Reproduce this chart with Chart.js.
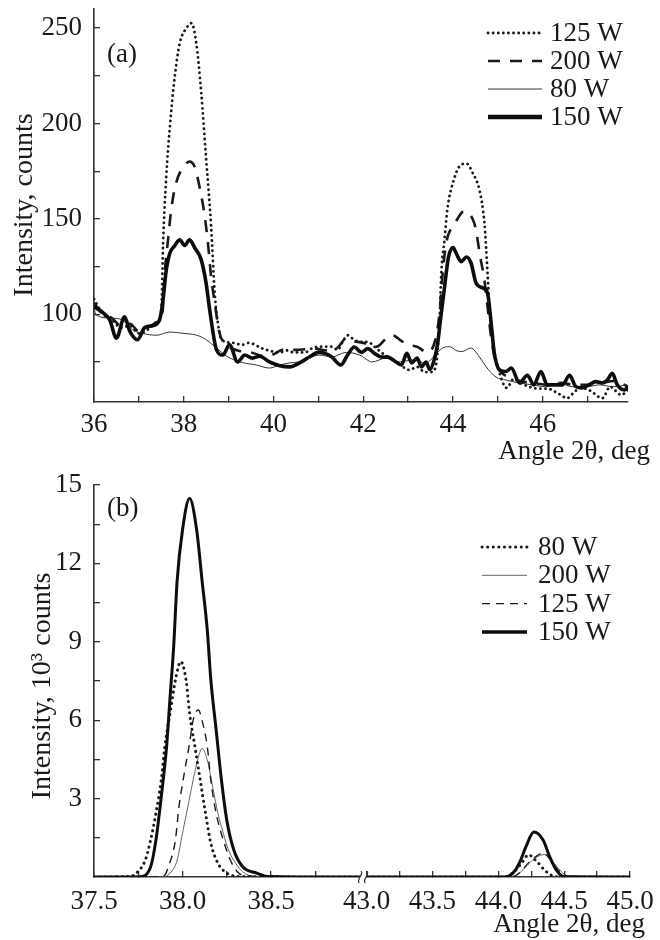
<!DOCTYPE html>
<html>
<head>
<meta charset="utf-8">
<script src="https://cdn.jsdelivr.net/npm/chart.js@4.4.0/dist/chart.umd.min.js"></script>
<style>
  html, body { margin: 0; padding: 0; background: #fff; }
  canvas { display: block; }
</style>
</head>
<body>
<canvas id="chart-a" width="660" height="470"></canvas>
<canvas id="chart-b" width="660" height="470"></canvas>
<script>
// ---------- panel (a): intensity, counts vs angle 2θ ----------
const A_125_X = [36.0, 36.2, 36.4, 36.6, 36.8, 37.0, 37.2, 37.4, 37.5, 37.54, 37.61, 37.69, 37.8, 37.91, 38.06, 38.17, 38.28, 38.39, 38.5, 38.61, 38.69, 38.76, 38.85, 39.1, 39.3, 39.45, 39.76, 40.14, 40.3, 40.45, 40.7, 40.87, 41.1, 41.3, 41.43, 41.54, 41.66, 41.8, 41.96, 42.1, 42.25, 42.4, 42.6, 42.77, 43.03, 43.2, 43.37, 43.52, 43.63, 43.7, 43.74, 43.81, 43.88, 44.0, 44.14, 44.3, 44.44, 44.59, 44.7, 44.77, 44.81, 44.88, 45.0, 45.2, 45.35, 45.5, 45.7, 45.9, 46.1, 46.33, 46.55, 46.65, 46.85, 47.05, 47.33, 47.5, 47.75, 47.9];
const A_125_Y = [108, 100, 97, 93, 94, 90, 92, 96, 102, 137, 172, 198, 224.6, 242, 250, 252.6, 242, 216, 181, 146, 111, 95.4, 86.5, 85, 84, 85, 82, 80, 81, 80, 80, 82.3, 83, 83, 81.3, 85.5, 89, 86.5, 85.5, 85.5, 83, 80, 77, 74.5, 70.8, 72.4, 69.7, 69.7, 74.5, 97, 121.6, 139, 156, 169, 177.4, 179, 174, 165, 147.8, 121.6, 104, 86.5, 72.4, 61.4, 66, 64, 62, 61, 61, 58.7, 56, 58, 61.4, 60, 56, 62, 57.7, 60.3];

const A_200_X = [36.0, 36.2, 36.4, 36.6, 36.8, 37.0, 37.2, 37.4, 37.53, 37.57, 37.65, 37.72, 37.83, 38.02, 38.13, 38.24, 38.35, 38.47, 38.54, 38.61, 38.69, 38.8, 38.95, 39.2, 39.5, 39.8, 40.0, 40.2, 40.5, 40.9, 41.2, 41.45, 41.6, 41.75, 42.0, 42.3, 42.5, 42.65, 42.85, 43.0, 43.2, 43.43, 43.6, 43.7, 43.77, 43.85, 44.03, 44.25, 44.47, 44.53, 44.6, 44.7, 44.77, 44.85, 44.95, 45.1, 45.3, 45.5, 45.8, 46.1, 46.4, 46.7, 47.0, 47.3, 47.6, 47.9];
const A_200_Y = [106, 100, 98, 94, 95, 91, 93, 96, 102, 119.7, 139, 154.7, 168.8, 178, 180, 177.4, 167, 151, 137, 119.7, 106, 90, 84, 81, 80, 78, 79, 81.3, 81.3, 82, 81, 83, 87, 86, 85, 83, 87, 89, 86, 84, 83, 80, 86, 100.6, 121.6, 137.4, 147, 154, 148, 141.6, 131, 118, 104, 88, 75, 69, 67, 65, 64, 63, 64, 63, 63, 64, 65, 62];

const A_80_X = [36.0, 36.05, 36.35, 36.64, 36.86, 37.08, 37.4, 37.69, 37.98, 38.29, 38.51, 38.73, 38.96, 39.25, 39.62, 39.91, 40.14, 40.36, 40.58, 41.03, 41.3, 41.62, 41.92, 42.2, 42.5, 42.8, 43.1, 43.4, 43.6, 43.77, 43.92, 44.1, 44.2, 44.4, 44.59, 44.74, 44.96, 45.18, 45.48, 45.77, 46.07, 46.37, 46.66, 46.96, 47.27, 47.57, 47.88];
const A_80_Y = [103, 99.6, 98, 97, 91.8, 90, 89, 90.7, 90, 89, 86.5, 82.3, 78, 75, 73.4, 71.8, 73.4, 74.5, 75, 78.6, 77.6, 80, 78.6, 75, 77, 75, 76, 74.5, 78.6, 82.3, 83, 80.7, 80.5, 82.3, 77.6, 72.4, 67, 65.5, 64, 63, 62, 64, 62, 62, 63, 62, 63];

const A_150_X = [36.0, 36.19, 36.35, 36.5, 36.68, 36.8, 36.97, 37.13, 37.3, 37.46, 37.53, 37.61, 37.69, 37.8, 37.91, 38.02, 38.13, 38.24, 38.39, 38.5, 38.58, 38.73, 38.87, 39.02, 39.2, 39.36, 39.53, 39.69, 39.91, 40.14, 40.36, 40.58, 40.8, 41.0, 41.15, 41.3, 41.5, 41.65, 41.8, 41.96, 42.1, 42.25, 42.4, 42.55, 42.7, 42.85, 42.97, 43.08, 43.2, 43.3, 43.4, 43.48, 43.58, 43.66, 43.72, 43.8, 43.9, 44.0, 44.07, 44.18, 44.3, 44.4, 44.52, 44.66, 44.77, 44.85, 44.92, 45.04, 45.18, 45.3, 45.48, 45.66, 45.8, 45.96, 46.1, 46.25, 46.44, 46.6, 46.74, 46.88, 47.03, 47.18, 47.33, 47.44, 47.55, 47.66, 47.82, 47.9];
const A_150_Y = [104, 101, 97, 87.5, 98.6, 91, 86.6, 93, 94, 97, 106, 123, 132, 136, 139, 136, 139, 135, 128.5, 116, 102, 81.3, 78.6, 84, 75, 78.6, 77, 78, 75, 73, 72.4, 74.5, 77.6, 80, 79.5, 77.6, 73.4, 78.6, 82.8, 80, 82, 79.5, 77.6, 77.5, 75.5, 73.4, 79.5, 74.5, 77, 72.4, 75, 71, 76, 85, 97, 112, 130, 135, 132, 127.6, 130, 127, 116, 113.8, 111, 95.5, 79.7, 70.8, 70, 71.8, 64, 68, 63, 70, 63, 63, 63, 68, 62, 61.4, 63, 64.7, 64, 65.5, 69, 63, 60.3, 62];

const A_XTICKS = [36, 37, 38, 39, 40, 41, 42, 43, 44, 45, 46, 47];
const A_XLABELS = ['36', '', '38', '', '40', '', '42', '', '44', '', '46', ''];
const A_YTICKS = [75, 100, 125, 150, 175, 200, 225, 250];
const A_YLABELS = ['', '100', '', '150', '', '200', '', '250'];
const A_LEGEND = ['125 W', '200 W', '80 W', '150 W'];

// ---------- panel (b): intensity, 10^3 counts vs angle 2θ (broken axis) ----------
const B_80_X = [37.5, 37.7, 37.74, 37.79, 37.82, 37.85, 37.88, 37.9, 37.93, 37.96, 37.99, 38.02, 38.04, 38.07, 38.1, 38.13, 38.16, 38.2, 38.25, 38.32, 38.9, 43.0, 44.05, 44.12, 44.18, 44.23, 44.27, 44.31, 44.35, 44.4, 44.46, 45.0];
const B_80_Y = [0, 0.02, 0.15, 0.65, 1.42, 2.44, 3.71, 4.99, 6.27, 7.54, 8.24, 7.54, 6.27, 4.99, 3.71, 2.44, 1.29, 0.53, 0.15, 0.02, 0, 0, 0, 0.2, 0.55, 0.85, 0.7, 0.5, 0.27, 0.08, 0, 0];

const B_200_X = [37.5, 37.88, 37.93, 37.97, 38.0, 38.03, 38.06, 38.09, 38.11, 38.14, 38.17, 38.2, 38.23, 38.26, 38.3, 38.34, 38.4, 38.9, 43.0, 44.1, 44.16, 44.22, 44.28, 44.35, 44.41, 44.47, 44.53, 45.0];
const B_200_Y = [0, 0, 0.15, 0.65, 1.68, 2.69, 3.71, 4.6, 4.92, 4.48, 3.46, 2.44, 1.68, 1.03, 0.53, 0.2, 0.03, 0, 0, 0, 0.15, 0.45, 0.72, 0.86, 0.6, 0.25, 0.04, 0];

const B_125_X = [37.5, 37.86, 37.9, 37.92, 37.96, 37.98, 38.01, 38.04, 38.06, 38.09, 38.11, 38.14, 38.16, 38.19, 38.23, 38.27, 38.31, 38.36, 38.9, 43.0, 44.1, 44.17, 44.23, 44.29, 44.34, 44.39, 44.44, 44.5, 44.55, 45.0];
const B_125_Y = [0, 0, 0.08, 0.39, 1.42, 2.69, 3.97, 5.12, 6.0, 6.39, 6.0, 4.99, 3.71, 2.44, 1.42, 0.65, 0.2, 0.03, 0, 0, 0, 0.2, 0.55, 0.8, 0.92, 0.7, 0.35, 0.08, 0, 0];

const B_150_X = [37.5, 37.7, 37.76, 37.82, 37.85, 37.88, 37.91, 37.93, 37.95, 37.97, 38.0, 38.04, 38.08, 38.11, 38.14, 38.16, 38.19, 38.22, 38.25, 38.29, 38.34, 38.42, 38.48, 38.9, 43.0, 44.0, 44.06, 44.12, 44.17, 44.21, 44.27, 44.34, 44.39, 44.44, 44.5, 45.0];
const B_150_Y = [0, 0, 0.01, 0.39, 1.42, 3.07, 4.99, 6.9, 8.81, 11.37, 13.28, 14.49, 13.28, 11.37, 9.45, 7.54, 5.63, 3.71, 2.18, 1.03, 0.39, 0.15, 0.02, 0, 0, 0, 0.01, 0.2, 0.65, 1.16, 1.72, 1.42, 0.78, 0.27, 0.01, 0];

const B_XTICKS = [37.5, 37.75, 38.0, 38.25, 38.5, 38.75, 43.0, 43.25, 43.5, 43.75, 44.0, 44.25, 44.5, 44.75, 45.0];
const B_XLABELS = ['37.5', '', '38.0', '', '38.5', '', '43.0', '', '43.5', '', '44.0', '', '44.5', '', '45.0'];
const B_YTICKS = [1.5, 3, 4.5, 6, 7.5, 9, 10.5, 12, 13.5, 15];
const B_YLABELS = ['', '3', '', '6', '', '9', '', '12', '', '15'];
const B_LEGEND = ['80 W', '200 W', '125 W', '150 W'];

// the gap 39..43 deg is squeezed, right part drawn at a smaller scale
const BREAK_LO = 39.0;
const BREAK_HI = 43.0;
const BREAK_GAP = 0.04;
const RIGHT_K = 0.744;
function axisPos(a) {
  return a <= BREAK_LO ? a : BREAK_LO + BREAK_GAP + (a - BREAK_HI) * RIGHT_K;
}

const SERIF = '"Liberation Serif", "Times New Roman", serif';
const INK = '#1a1a1a';

function pts(xs, ys, map) {
  return xs.map((x, i) => ({ x: map ? map(x) : x, y: ys[i] }));
}

function line(label, data, style) {
  return Object.assign({
    label,
    data,
    borderColor: '#111',
    borderWidth: 1,
    pointRadius: 0,
    fill: false,
    cubicInterpolationMode: 'monotone',
    order: 1,
  }, style);
}

// fixed box size, and no extra room reserved for the end labels
function fixBox(prop, size) {
  return (s) => {
    s[prop] = size;
    s.paddingTop = 0;
    s.paddingBottom = 0;
    s.paddingLeft = 0;
    s.paddingRight = 0;
  };
}

function tickAxis(ticks, labels, pad, extra) {
  return Object.assign({
    type: 'linear',
    afterBuildTicks: (s) => { s.ticks = ticks.map((v) => ({ value: v })); },
    ticks: {
      autoSkip: false,
      maxRotation: 0,
      minRotation: 0,
      padding: pad,
      color: INK,
      font: { family: SERIF, size: 27 },
      callback: (v, i) => labels[i],
    },
    grid: { drawOnChartArea: false, drawTicks: true, tickLength: -6, color: '#333', lineWidth: 1.3 },
    border: { display: true, color: '#333', width: 1.6 },
  }, extra);
}

// sample lines + labels, plus the panel letter and axis titles
const decor = {
  id: 'decor',
  afterDraw(chart, args, o) {
    const ctx = chart.ctx;
    const area = chart.chartArea;
    ctx.save();
    o.rows.forEach((label, i) => {
      const ds = chart.data.datasets.find((d) => d.label === label);
      const y = o.y0 + i * o.dy;
      ctx.strokeStyle = ds.borderColor;
      ctx.lineWidth = ds.legendWidth || ds.borderWidth;
      ctx.lineCap = ds.borderCapStyle || 'butt';
      ctx.setLineDash(ds.borderDash || []);
      ctx.beginPath();
      ctx.moveTo(o.x0, y);
      ctx.lineTo(o.x1, y);
      ctx.stroke();
    });
    ctx.setLineDash([]);
    ctx.fillStyle = INK;
    ctx.textBaseline = 'middle';
    ctx.font = '27px ' + SERIF;
    ctx.textAlign = 'left';
    o.rows.forEach((label, i) => ctx.fillText(label, o.tx, o.y0 + i * o.dy + 1));
    ctx.fillText(o.tag, o.tagX, o.tagY);
    ctx.textAlign = 'right';
    ctx.fillText('Angle 2θ, deg', o.xtRight, o.xtY);
    ctx.translate(o.ytX, o.ytY);
    ctx.rotate(-Math.PI / 2);
    ctx.textAlign = 'center';
    ctx.font = '28px ' + SERIF;
    ctx.fillText(o.ytitle, 0, 0);
    ctx.restore();

    if (o.brk) {
      const xs = chart.scales.x;
      const bx = xs.getPixelForValue(BREAK_LO + BREAK_GAP / 2);
      const by = area.bottom;
      ctx.save();
      ctx.fillStyle = '#fff';
      ctx.fillRect(bx - 3, by - 3, 6, 6);
      ctx.strokeStyle = '#333';
      ctx.lineWidth = 1.2;
      [-3, 3].forEach((dx) => {
        const cx = bx + dx;
        ctx.beginPath();
        ctx.moveTo(cx - 1, by + 6);
        ctx.bezierCurveTo(cx - 4, by + 2, cx + 4, by - 2, cx + 1, by - 6);
        ctx.stroke();
      });
      ctx.restore();
    }
  },
};

new Chart(document.getElementById('chart-a'), {
  type: 'line',
  data: {
    datasets: [
      line('125 W', pts(A_125_X, A_125_Y), { borderWidth: 2.8, borderDash: [0.1, 5], borderCapStyle: 'round', borderColor: '#1a1a1a', order: 3 }),
      line('200 W', pts(A_200_X, A_200_Y), { borderWidth: 2.6, borderDash: [12, 10], borderColor: '#1a1a1a', order: 2 }),
      line('80 W', pts(A_80_X, A_80_Y), { borderWidth: 1, borderColor: '#333', order: 1 }),
      line('150 W', pts(A_150_X, A_150_Y), { borderWidth: 3.6, borderColor: '#0d0d0d', order: 0, legendWidth: 4.5 }),
    ],
  },
  options: {
    responsive: false,
    animation: false,
    events: [],
    layout: { padding: { top: 9, right: 32, left: 0, bottom: 0 } },
    plugins: {
      legend: { display: false },
      tooltip: { enabled: false },
      decor: {
        rows: A_LEGEND, x0: 488, x1: 542, tx: 550, y0: 33, dy: 28,
        tag: '(a)', tagX: 107, tagY: 55,
        xtRight: 650, xtY: 452,
        ytitle: 'Intensity, counts', ytX: 25, ytY: 205,
      },
    },
    scales: {
      x: tickAxis(A_XTICKS, A_XLABELS, 13, {
        min: 36, max: 47.9,
        afterFit: fixBox('height', 68),
      }),
      y: tickAxis(A_YTICKS, A_YLABELS, 18, {
        min: 54, max: 260,
        afterFit: fixBox('width', 94),
      }),
    },
  },
  plugins: [decor],
});

// panel (b) canvas starts at page y = 470
new Chart(document.getElementById('chart-b'), {
  type: 'line',
  data: {
    datasets: [
      line('80 W', pts(B_80_X, B_80_Y, axisPos), { borderWidth: 3, borderDash: [0.1, 5.5], borderCapStyle: 'round', borderColor: '#1a1a1a', order: 1 }),
      line('200 W', pts(B_200_X, B_200_Y, axisPos), { borderWidth: 0.9, borderColor: '#555', order: 3 }),
      line('125 W', pts(B_125_X, B_125_Y, axisPos), { borderWidth: 1.4, borderDash: [8, 6], borderColor: '#1a1a1a', order: 2 }),
      line('150 W', pts(B_150_X, B_150_Y, axisPos), { borderWidth: 3, borderColor: '#0d0d0d', order: 0, legendWidth: 3.5 }),
    ],
  },
  options: {
    responsive: false,
    animation: false,
    events: [],
    layout: { padding: { top: 15, right: 30, left: 0, bottom: 0 } },
    plugins: {
      legend: { display: false },
      tooltip: { enabled: false },
      decor: {
        rows: B_LEGEND, x0: 482, x1: 527, tx: 538, y0: 77, dy: 28.3,
        tag: '(b)', tagX: 107, tagY: 39,
        xtRight: 645, xtY: 455,
        ytitle: 'Intensity, 10³ counts', ytX: 43, ytY: 216,
        brk: true,
      },
    },
    scales: {
      x: tickAxis(B_XTICKS.map(axisPos), B_XLABELS, 15, {
        min: axisPos(37.5), max: axisPos(45.0),
        afterFit: fixBox('height', 63),
      }),
      y: tickAxis(B_YTICKS, B_YLABELS, 18, {
        min: 0, max: 15,
        afterFit: fixBox('width', 94),
      }),
    },
  },
  plugins: [decor],
});
</script>
</body>
</html>
